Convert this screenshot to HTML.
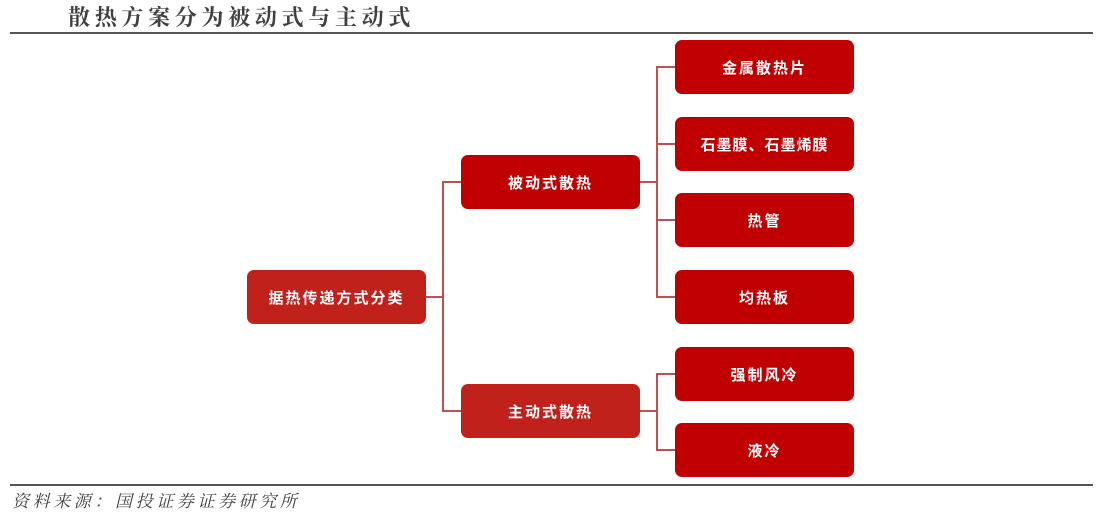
<!DOCTYPE html>
<html><head><meta charset="utf-8"><style>
body{margin:0;width:1103px;height:512px;background:#fff;position:relative;overflow:hidden;font-family:"Liberation Serif","Noto Serif CJK SC",serif}
.t{position:absolute;left:68px;top:1px;font-size:22px;font-weight:bold;color:#404040;letter-spacing:4.7px}
.hl{position:absolute;left:10px;width:1083px;height:2px;background:#555}
.b{position:absolute;width:179px;height:54px;border-radius:7px;background:#c00000;color:#fff;font-weight:bold;font-size:15px;display:flex;align-items:center;justify-content:center;letter-spacing:2px;font-family:"Liberation Sans","Noto Sans CJK SC",sans-serif}
.v{position:absolute;width:2px;background:#c0504d}
.h{position:absolute;height:2px;background:#c0504d}
.f{position:absolute;left:12px;top:487px;font-size:17px;font-style:italic;color:#404040;letter-spacing:3.6px}
</style></head><body>
<div class="t">散热方案分为被动式与主动式</div>
<div class="hl" style="top:32px"></div>
<div class="hl" style="top:484px"></div>
<div class="f">资料来源：国投证券证券研究所</div>

<div class="h" style="left:426px;top:296px;width:17px"></div>
<div class="v" style="left:442px;top:181px;height:231px"></div>
<div class="h" style="left:442px;top:181px;width:19px"></div>
<div class="h" style="left:442px;top:410px;width:19px"></div>

<div class="h" style="left:640px;top:181px;width:18px"></div>
<div class="v" style="left:656px;top:66px;height:231px"></div>
<div class="h" style="left:656px;top:66px;width:19px"></div>
<div class="h" style="left:656px;top:143px;width:19px"></div>
<div class="h" style="left:656px;top:219px;width:19px"></div>
<div class="h" style="left:656px;top:296px;width:19px"></div>

<div class="h" style="left:640px;top:410px;width:18px"></div>
<div class="v" style="left:656px;top:373px;height:77px"></div>
<div class="h" style="left:656px;top:373px;width:19px"></div>
<div class="h" style="left:656px;top:449px;width:19px"></div>

<div class="b" style="left:247px;top:270px;background:#c0211a">据热传递方式分类</div>
<div class="b" style="left:461px;top:155px">被动式散热</div>
<div class="b" style="left:461px;top:384px;background:#c0211a">主动式散热</div>
<div class="b" style="left:675px;top:40px">金属散热片</div>
<div class="b" style="left:675px;top:117px;letter-spacing:1px">石墨膜、石墨烯膜</div>
<div class="b" style="left:675px;top:193px">热管</div>
<div class="b" style="left:675px;top:270px">均热板</div>
<div class="b" style="left:675px;top:347px">强制风冷</div>
<div class="b" style="left:675px;top:423px">液冷</div>
</body></html>
